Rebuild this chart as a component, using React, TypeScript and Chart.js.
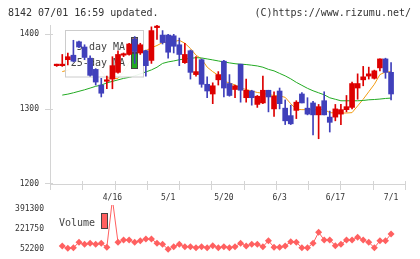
import React, { useEffect, useRef } from 'react';
import { Chart, registerables } from 'chart.js';

Chart.register(...registerables);

const FONT = '"DejaVu Sans Mono", monospace';
const RED = '#dd0000';
const BLUE = '#4040bb';
const ORANGE = '#f39c12';
const GREEN = '#22aa22';
const VOL = '#ff6060';
const GRID = '#d4d4d4';

const xLabels = ['4/16', '5/1', '5/20', '6/3', '6/17', '7/1'];
const xLabelIndex = [10, 20, 30, 40, 50, 60];
const priceTicks = [1200, 1300, 1400];
const volumeTicks = [52200, 221750, 391300];

const opens = [
  1358, 1358, 1366, 1372, 1390, 1383, 1368, 1353, 1332, 1337,
  1340, 1349, 1372, 1373, 1394, 1375, 1378, 1365, 1409, 1399,
  1399, 1398, 1386, 1362, 1378, 1346, 1366, 1333, 1320, 1339,
  1364, 1334, 1326, 1360, 1315, 1324, 1306, 1308, 1325, 1300,
  1324, 1301, 1291, 1298, 1320, 1301, 1308, 1292, 1311, 1289,
  1289, 1293, 1299, 1302, 1328, 1339, 1344, 1341, 1355, 1367,
  1349,
];
const highs = [
  1360, 1373, 1375, 1392, 1391, 1386, 1371, 1354, 1341, 1344,
  1370, 1378, 1375, 1388, 1397, 1388, 1379, 1410, 1413, 1405,
  1400, 1400, 1395, 1388, 1379, 1370, 1367, 1343, 1335, 1350,
  1365, 1346, 1332, 1360, 1340, 1325, 1318, 1344, 1325, 1323,
  1328, 1312, 1305, 1311, 1322, 1315, 1310, 1306, 1323, 1297,
  1306, 1306, 1318, 1336, 1347, 1357, 1356, 1352, 1367, 1368,
  1362,
];
const lows = [
  1357, 1357, 1359, 1363, 1382, 1366, 1344, 1332, 1316, 1327,
  1327, 1348, 1370, 1372, 1361, 1373, 1344, 1361, 1393, 1387,
  1368, 1375, 1358, 1361, 1340, 1344, 1329, 1315, 1307, 1332,
  1316, 1317, 1315, 1309, 1309, 1305, 1302, 1307, 1296, 1290,
  1300, 1279, 1279, 1287, 1308, 1292, 1265, 1260, 1292, 1269,
  1284, 1279, 1296, 1300, 1313, 1331, 1340, 1340, 1351, 1341,
  1312,
];
const closes = [
  1359, 1359, 1370, 1364, 1383, 1369, 1345, 1336, 1321, 1339,
  1358, 1373, 1374, 1387, 1377, 1386, 1358, 1405, 1410, 1389,
  1376, 1384, 1373, 1373, 1349, 1350, 1333, 1324, 1331, 1346,
  1328, 1318, 1331, 1325, 1325, 1315, 1317, 1325, 1316, 1317,
  1307, 1284, 1280, 1309, 1308, 1293, 1292, 1303, 1292, 1282,
  1300, 1299, 1303, 1334, 1334, 1343, 1347, 1351, 1367, 1349,
  1320,
];
const ma5 = [
  null, 1350, 1352, 1356, 1362, 1365, 1364, 1358, 1350, 1342,
  1340.5, 1341, 1350, 1362, 1372, 1379, 1378, 1382, 1385, 1389,
  1389.5, 1390, 1392, 1388, 1381, 1372, 1367, 1356, 1350, 1345,
  1337, 1335, 1332, 1328, 1326, 1324, 1322, 1321, 1319, 1318,
  1317.5, 1315.5, 1307, 1299.5, 1299, 1299, 1299, 1299, 1299.5, 1295,
  1294.5, 1294.5, 1294.5, 1295, 1304, 1313, 1323, 1333, 1346, 1349.5,
  1350,
];
const ma25 = [
  null, 1318.5, 1319.8, 1321.6, 1323.6, 1325.6, 1327.9, 1330.3, 1331.9, 1334.9,
  1336.9, 1338.9, 1340.9, 1342.3, 1344.3, 1347, 1349.6, 1352.3, 1355.9, 1361,
  1363, 1364.3, 1365.9, 1367, 1367.7, 1368.7, 1368.3, 1367, 1365.7, 1364.3,
  1363, 1361.7, 1360.6, 1359.9, 1359.5, 1358.6, 1357.6, 1355.9, 1353, 1351,
  1347.6, 1344.3, 1340.3, 1335.6, 1331.6, 1327.6, 1324.3, 1321.6, 1318.9, 1314.9,
  1312.9, 1310.9, 1310.9, 1310.9, 1310.9, 1311.3, 1312.2, 1312.6, 1313.2, 1314,
  1314.5,
];
const volumes = [
  null, 77400, 58100, 63100, 108600, 91700, 100200, 91700, 100200, 66500,
  470000, 108600, 127900, 127900, 108600, 122000, 136300, 136300, 100200, 91700,
  49700, 71600, 91700, 71600, 71600, 63100, 71600, 63100, 80000, 63100,
  71600, 63100, 71600, 100200, 77400, 91700, 91700, 71600, 122000, 66500,
  66500, 77400, 113600, 108600, 63100, 63100, 100200, 192700, 127900, 127900,
  80000, 91700, 127900, 127900, 150600, 127900, 108600, 63100, 122000, 122000,
  178400,
];

const X_MIN = -1.2;
const X_MAX = 62.5;

const headerPlugin = {
  id: 'header',
  afterDraw(chart: any) {
    const ctx = chart.ctx;
    ctx.save();
    ctx.font = `10px ${FONT}`;
    ctx.fillStyle = '#333';
    ctx.textBaseline = 'alphabetic';
    ctx.textAlign = 'left';
    ctx.fillText('8142 07/01 16:59 updated.', 8, 15.5);
    ctx.textAlign = 'right';
    ctx.fillText('(C)https://www.rizumu.net/', 411, 15.5);
    ctx.restore();
  },
};

const axisMarksPlugin = {
  id: 'axisMarks',
  afterDraw(chart: any) {
    const { ctx, chartArea } = chart;
    const x = chart.scales.x;
    const y = chart.scales.y;
    ctx.save();
    ctx.strokeStyle = GRID;
    ctx.lineWidth = 1;
    ctx.beginPath();
    for (let k = 0; k <= 11; k++) {
      const px = Math.round(x.getPixelForValue(X_MIN + ((X_MAX - X_MIN) * k) / 11)) + 0.5;
      ctx.moveTo(px, chartArea.bottom - 3);
      ctx.lineTo(px, chartArea.bottom + 6);
    }
    for (const v of priceTicks) {
      const py = Math.round(y.getPixelForValue(v)) + 0.5;
      ctx.moveTo(chartArea.left - 5, py);
      ctx.lineTo(chartArea.left + 3, py);
    }
    ctx.stroke();
    ctx.restore();
  },
};

const legendBoxPlugin = {
  id: 'legendBox',
  afterDatasetDraw(chart: any, args: any) {
    if (args.index !== 1) return;
    const ctx = chart.ctx;
    ctx.save();
    ctx.fillStyle = 'rgba(255,255,255,0.92)';
    ctx.fillRect(65.5, 30.5, 78, 46.5);
    ctx.strokeStyle = '#cccccc';
    ctx.lineWidth = 1;
    ctx.strokeRect(65.5, 30.5, 78, 46.5);
    ctx.font = `10px ${FONT}`;
    ctx.fillStyle = '#444';
    ctx.textAlign = 'right';
    ctx.textBaseline = 'alphabetic';
    ctx.fillText('5-day MA', 125, 49.5);
    ctx.fillText('25-day MA', 125, 66);
    ctx.strokeStyle = '#444';
    ctx.fillStyle = ORANGE;
    ctx.fillRect(131.5, 37.5, 6, 15);
    ctx.strokeRect(131.5, 37.5, 6, 15);
    ctx.fillStyle = GREEN;
    ctx.fillRect(131.5, 53.5, 6, 15);
    ctx.strokeRect(131.5, 53.5, 6, 15);
    ctx.restore();
  },
};

const volLegendPlugin = {
  id: 'volLegend',
  afterDraw(chart: any) {
    const ctx = chart.ctx;
    ctx.save();
    ctx.font = `10px ${FONT}`;
    ctx.fillStyle = '#444';
    ctx.textAlign = 'right';
    ctx.textBaseline = 'alphabetic';
    ctx.fillText('Volume', 95, 26);
    ctx.fillStyle = VOL;
    ctx.strokeStyle = '#444';
    ctx.lineWidth = 1;
    ctx.fillRect(101.5, 13.5, 6, 15);
    ctx.strokeRect(101.5, 13.5, 6, 15);
    ctx.restore();
  },
};

function zeroPad(s: any) {
  s.paddingTop = 0;
  s.paddingBottom = 0;
  s.paddingLeft = 0;
  s.paddingRight = 0;
}

export default function App() {
  const mainRef = useRef<HTMLCanvasElement>(null);
  const volRef = useRef<HTMLCanvasElement>(null);

  useEffect(() => {
    const colors = opens.map((o, i) => (closes[i] >= o ? RED : BLUE));
    const tickFont = { family: FONT, size: 8 };

    const main = new Chart(mainRef.current as HTMLCanvasElement, {
      type: 'bar',
      data: {
        datasets: [
          {
            type: 'line',
            label: '5-day MA',
            data: ma5.map((v, i) => ({ x: i, y: v })),
            borderColor: ORANGE,
            borderWidth: 1,
            pointRadius: 0,
            order: 4,
          } as any,
          {
            type: 'line',
            label: '25-day MA',
            data: ma25.map((v, i) => ({ x: i, y: v })),
            borderColor: GREEN,
            borderWidth: 1,
            pointRadius: 0,
            order: 3,
          } as any,
          {
            type: 'bar',
            label: 'wick',
            data: lows.map((l, i) => ({ x: i, y: [l, highs[i]] })),
            backgroundColor: colors,
            barThickness: 1,
            grouped: false,
            order: 2,
          } as any,
          {
            type: 'bar',
            label: 'body',
            data: opens.map((o, i) => ({ x: i, y: [o, closes[i]] })),
            backgroundColor: colors,
            barThickness: 5,
            minBarLength: 1.5,
            grouped: false,
            order: 1,
          } as any,
        ],
      },
      options: {
        responsive: false,
        animation: false,
        events: [],
        layout: { padding: { left: 0, right: 15, top: 25, bottom: 0 }, autoPadding: false } as any,
        plugins: { legend: { display: false }, tooltip: { enabled: false } },
        scales: {
          x: {
            type: 'linear',
            min: X_MIN,
            max: X_MAX,
            offset: false,
            grid: { display: false, drawTicks: false, offset: false },
            border: { display: true, color: GRID, width: 1 },
            ticks: {
              autoSkip: false,
              maxRotation: 0,
              minRotation: 0,
              padding: 9,
              color: '#333',
              font: tickFont,
              callback: (v: any) => {
                const k = xLabelIndex.indexOf(Number(v));
                return k >= 0 ? xLabels[k] : '';
              },
            },
            afterBuildTicks: (s: any) => {
              s.ticks = xLabelIndex.map((v) => ({ value: v }));
            },
            afterFit: (s: any) => {
              s.height = 21;
              zeroPad(s);
            },
          } as any,
          y: {
            type: 'linear',
            min: 1199.3,
            max: 1412.5,
            beginAtZero: false,
            grid: { display: false, drawTicks: false },
            border: { display: true, color: GRID, width: 1 },
            ticks: {
              padding: 11,
              color: '#333',
              font: tickFont,
              callback: (v: any) => String(v),
            },
            afterBuildTicks: (s: any) => {
              s.ticks = priceTicks.map((v) => ({ value: v }));
            },
            afterFit: (s: any) => {
              s.width = 50;
              zeroPad(s);
            },
          } as any,
        },
      },
      plugins: [legendBoxPlugin, axisMarksPlugin, headerPlugin],
    });

    const vol = new Chart(volRef.current as HTMLCanvasElement, {
      type: 'line',
      data: {
        datasets: [
          {
            label: 'Volume',
            data: volumes.map((v, i) => ({ x: i, y: v })),
            borderColor: VOL,
            borderWidth: 1,
            pointStyle: 'rectRot',
            pointRadius: 3.5,
            pointBackgroundColor: VOL,
            pointBorderWidth: 0,
            clip: { left: 10, right: 10, top: 0, bottom: 10 },
          } as any,
        ],
      },
      options: {
        responsive: false,
        animation: false,
        events: [],
        layout: { padding: { left: 0, right: 15, top: 5, bottom: 7 }, autoPadding: false } as any,
        plugins: { legend: { display: false }, tooltip: { enabled: false } },
        scales: {
          x: {
            type: 'linear',
            min: X_MIN,
            max: X_MAX,
            display: false,
          },
          y: {
            type: 'linear',
            min: 26957,
            max: 422433,
            grid: { display: false, drawTicks: false },
            border: { display: false },
            ticks: {
              padding: 6,
              color: '#333',
              font: tickFont,
              callback: (v: any) => String(v),
            },
            afterBuildTicks: (s: any) => {
              s.ticks = volumeTicks.map((v) => ({ value: v }));
            },
            afterFit: (s: any) => {
              s.width = 50;
              zeroPad(s);
            },
          } as any,
        },
      },
      plugins: [volLegendPlugin],
    });

    return () => {
      main.destroy();
      vol.destroy();
    };
  }, []);

  return (
    <div style={{ position: 'absolute', left: 0, top: 0, width: 420, height: 259, background: '#fff' }}>
      <canvas ref={mainRef} width={420} height={205} style={{ position: 'absolute', left: 0, top: 0 }} />
      <canvas ref={volRef} width={420} height={59} style={{ position: 'absolute', left: 0, top: 200 }} />
    </div>
  );
}
